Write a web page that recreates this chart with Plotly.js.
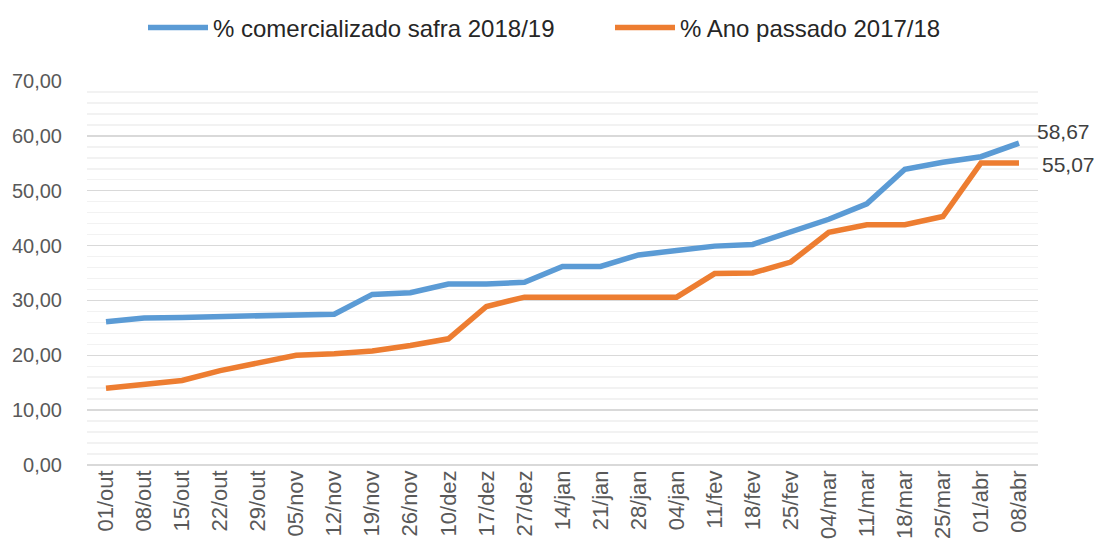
<!DOCTYPE html>
<html>
<head>
<meta charset="utf-8">
<script src="https://cdn.plot.ly/plotly-3.0.1.min.js"></script>
<style>html,body{margin:0;padding:0;background:#fff;}#chart{width:1094px;height:549px;}</style>
</head>
<body>
<div id="chart"></div>
<script>
const categories = ["01/out","08/out","15/out","22/out","29/out","05/nov","12/nov","19/nov","26/nov","10/dez","17/dez","27/dez","14/jan","21/jan","28/jan","04/jan","11/fev","18/fev","25/fev","04/mar","11/mar","18/mar","25/mar","01/abr","08/abr"];
const safra2018 = [26.1,26.8,26.9,27.0,27.2,27.4,27.5,31.1,31.4,33.0,33.0,33.3,36.2,36.2,38.3,39.1,39.9,40.2,42.4,44.8,47.6,53.9,55.2,56.2,58.67];
const safra2017 = [14.0,14.8,15.4,17.2,18.7,20.0,20.3,20.8,21.8,23.0,28.9,30.6,30.6,30.6,30.6,30.6,34.9,35.0,37.0,42.4,43.8,43.8,45.3,55.07,55.07];
const seriesNames = ["% comercializado safra 2018/19","% Ano passado 2017/18"];

const fmt = v => v.toFixed(2).replace('.', ',');
const last = categories.length - 1;

const traces = [
  {x: categories, y: safra2018, name: seriesNames[0], type: 'scatter', mode: 'lines',
   line: {color: '#5B9BD5', width: 5.5, shape: 'linear'}, hoverinfo: 'skip'},
  {x: categories, y: safra2017, name: seriesNames[1], type: 'scatter', mode: 'lines',
   line: {color: '#ED7D31', width: 5.5, shape: 'linear'}, hoverinfo: 'skip'}
];

const layout = {
  width: 1094, height: 549,
  margin: {l: 87, r: 56, t: 81, b: 84},
  paper_bgcolor: '#ffffff', plot_bgcolor: '#ffffff',
  separators: ',.',
  font: {family: 'Liberation Sans, Arial, sans-serif', color: '#595959', size: 19},
  showlegend: true,
  legend: {orientation: 'h', x: 143 / 1094, xanchor: 'left', xref: 'container', y: 0.99, yref: 'container', yanchor: 'top',
           font: {size: 24, color: '#262626', family: 'Liberation Sans, Arial, sans-serif'},
           itemwidth: 60, entrywidth: 392, entrywidthmode: 'pixels', tracegroupgap: 0},
  xaxis: {type: 'category', tickangle: -90, showgrid: false, zeroline: false,
          showline: false, ticks: '', tickfont: {size: 22, color: '#595959'},
          range: [-0.5, last + 0.5], fixedrange: true, automargin: false},
  yaxis: {range: [0, 70], dtick: 10, tick0: 0, tickformat: '.2f', showgrid: true, gridcolor: '#D9D9D9', gridwidth: 1.5,
          zeroline: true, zerolinecolor: '#D9D9D9', zerolinewidth: 1.5, showline: false, ticks: '',
          ticklabelstandoff: 24,
          minor: {dtick: 2, showgrid: true, gridcolor: '#F2F2F2', gridwidth: 1.5},
          tickfont: {size: 20, color: '#595959'}, fixedrange: true},
  annotations: [
    {x: categories[last], y: safra2018[last], xref: 'x', yref: 'y', text: fmt(safra2018[last]),
     showarrow: false, xanchor: 'left', yanchor: 'middle', xshift: 16, yshift: 12,
     font: {size: 21, color: '#404040'}},
    {x: categories[last], y: safra2017[last], xref: 'x', yref: 'y', text: fmt(safra2017[last]),
     showarrow: false, xanchor: 'left', yanchor: 'middle', xshift: 21, yshift: -2,
     font: {size: 21, color: '#404040'}}
  ]
};

Plotly.newPlot('chart', traces, layout, {displayModeBar: false, staticPlot: true});
</script>
</body>
</html>
